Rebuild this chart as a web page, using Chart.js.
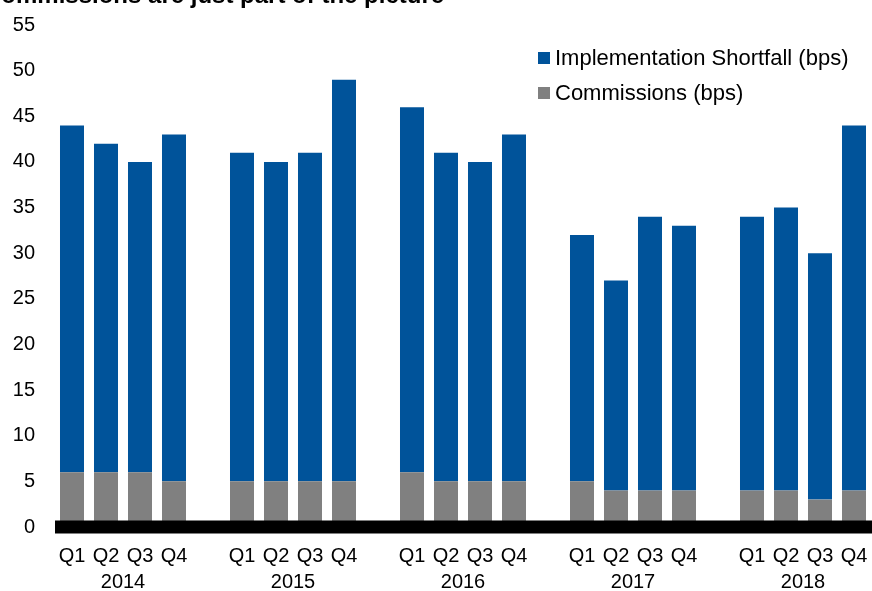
<!DOCTYPE html>
<html>
<head>
<meta charset="utf-8">
<script src="https://cdn.jsdelivr.net/npm/chart.js@4"></script>
<style>
  html, body { margin: 0; padding: 0; background: #fff; }
  #wrap { width: 872px; height: 591px; position: relative; }
</style>
</head>
<body>
<div id="wrap"><canvas id="costChart" width="872" height="591"></canvas></div>
<script>
// values, quarter by quarter, 2014 Q1 .. 2018 Q4
const years = ['2014', '2015', '2016', '2017', '2018'];
const quarters = ['Q1', 'Q2', 'Q3', 'Q4'];
const commissions = [6, 6, 6, 5,  5, 5, 5, 5,  6, 5, 5, 5,  5, 4, 4, 4,  4, 4, 3, 4];
const shortfall = [38, 36, 34, 38,  36, 35, 36, 44,  40, 36, 35, 38,  27, 23, 30, 29,  30, 31, 27, 40];
const yTicks = [0, 5, 10, 15, 20, 25, 30, 35, 40, 45, 50, 55];

const titleText = 'Commissions are just part of the picture';
const blue = '#00539a';
const grey = '#808080';

// one empty slot between years
const labels = [];
const commData = [];
const shortData = [];
const yearCenters = [];
years.forEach(function(year, y) {
    if (y > 0) {
        labels.push('');
        commData.push(null);
        shortData.push(null);
    }
    yearCenters.push(labels.length + 1.5);
    quarters.forEach(function(q, i) {
        labels.push(q);
        commData.push(commissions[y * 4 + i]);
        shortData.push(shortfall[y * 4 + i]);
    });
});

const titlePlugin = {
    id: 'clippedTitle',
    afterDraw: function(chart) {
        const ctx = chart.ctx;
        ctx.save();
        ctx.font = 'bold 24px "Liberation Sans", Arial, sans-serif';
        ctx.fillStyle = '#000';
        ctx.textBaseline = 'alphabetic';
        ctx.fillText(titleText, -16, 3);
        ctx.restore();
    }
};

// thick black zero line over the bar bottoms
const baseLinePlugin = {
    id: 'baseLine',
    afterDatasetsDraw: function(chart) {
        const ctx = chart.ctx;
        const area = chart.chartArea;
        const y0 = chart.scales.y.getPixelForValue(0);
        ctx.save();
        ctx.fillStyle = '#000';
        ctx.fillRect(area.left, y0 - 6.5, area.right - area.left + 1, 13);
        ctx.restore();
    }
};

const legendPlugin = {
    id: 'innerLegend',
    afterDraw: function(chart) {
        const ctx = chart.ctx;
        const items = chart.data.datasets.slice().reverse();
        ctx.save();
        ctx.font = '22px "Liberation Sans", Arial, sans-serif';
        ctx.textBaseline = 'middle';
        items.forEach(function(ds, i) {
            const cy = 58 + i * 35;
            ctx.fillStyle = ds.backgroundColor;
            ctx.fillRect(538, cy - 6, 12, 12);
            ctx.fillStyle = '#000';
            ctx.fillText(ds.label, 555, cy + 1);
        });
        ctx.restore();
    }
};

function noSidePadding(axis) {
    axis.paddingLeft = 0;
    axis.paddingRight = 0;
}

const ctx = document.getElementById('costChart').getContext('2d');
new Chart(ctx, {
    type: 'bar',
    data: {
        labels: labels,
        datasets: [
            {
                label: 'Commissions (bps)',
                data: commData,
                backgroundColor: grey,
                borderWidth: 0,
                barPercentage: 1,
                categoryPercentage: 0.706
            },
            {
                label: 'Implementation Shortfall (bps)',
                data: shortData,
                backgroundColor: blue,
                borderWidth: 0,
                barPercentage: 1,
                categoryPercentage: 0.706
            }
        ]
    },
    plugins: [titlePlugin, baseLinePlugin, legendPlugin],
    options: {
        responsive: false,
        animation: false,
        layout: { padding: { top: 25, right: 1, left: 0, bottom: 0 } },
        plugins: {
            legend: { display: false },
            title: { display: false },
            tooltip: { enabled: false }
        },
        scales: {
            x: {
                stacked: true,
                grid: { display: false, drawTicks: false },
                border: { display: false },
                afterFit: function(axis) {
                    noSidePadding(axis);
                    axis.height = 39;
                },
                ticks: {
                    color: '#000',
                    font: { family: '"Liberation Sans", Arial, sans-serif', size: 20 },
                    padding: 17,
                    maxRotation: 0,
                    autoSkip: false
                }
            },
            yearAxis: {
                type: 'linear',
                position: 'bottom',
                offset: false,
                min: -0.5,
                max: labels.length - 0.5,
                grid: { display: false, drawTicks: false, offset: false },
                border: { display: false },
                afterBuildTicks: function(axis) {
                    axis.ticks = yearCenters.map(function(v) { return { value: v }; });
                },
                afterFit: function(axis) {
                    noSidePadding(axis);
                    axis.height = 25;
                },
                ticks: {
                    color: '#000',
                    font: { family: '"Liberation Sans", Arial, sans-serif', size: 20 },
                    padding: 4,
                    maxRotation: 0,
                    autoSkip: false,
                    callback: function(value) {
                        return years[yearCenters.indexOf(value)];
                    }
                }
            },
            y: {
                stacked: true,
                min: 0,
                max: 55,
                grid: { display: false, drawTicks: false },
                border: { display: false },
                afterBuildTicks: function(axis) {
                    axis.ticks = yTicks.map(function(v) { return { value: v }; });
                },
                afterFit: function(axis) {
                    axis.width = 55;
                    axis.paddingTop = 0;
                    axis.paddingBottom = 0;
                },
                ticks: {
                    color: '#000',
                    font: { family: '"Liberation Sans", Arial, sans-serif', size: 20 },
                    padding: 20
                }
            }
        }
    }
});
</script>
</body>
</html>
